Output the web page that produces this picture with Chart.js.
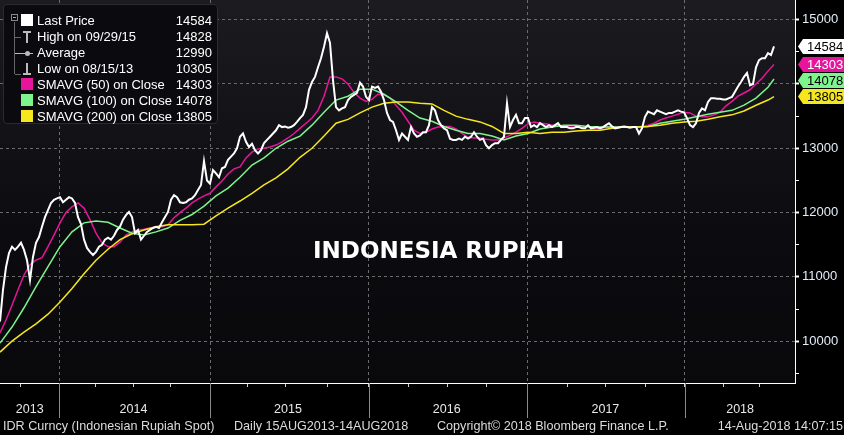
<!DOCTYPE html>
<html>
<head>
<meta charset="utf-8">
<title>IDR Curncy</title>
<script src="https://cdn.jsdelivr.net/npm/chart.js@4.4.1/dist/chart.umd.min.js"></script>
<style>
  html, body { margin: 0; padding: 0; background: #000; }
  #marco { position: relative; width: 844px; height: 435px; overflow: hidden; background: #000; }
  #myChart { position: absolute; left: 0; top: 0; }
  #leyenda { position: absolute; left: 3px; top: 4px; width: 215px; height: 120px;
             background: #0b0b0f; border: 1px solid #2a2a31; border-radius: 4px; box-sizing: border-box; }
  .fila { position: absolute; height: 16px; line-height: 16px; font: 13px "Liberation Sans", Arial, sans-serif; color: #fff; white-space: nowrap; }
  .valor { position: absolute; height: 16px; line-height: 16px; font: 13px "Liberation Sans", Arial, sans-serif; color: #fff; text-align: right; width: 60px; }
  .pieza { position: absolute; }
  #titulo { position: absolute; left: 313px; top: 237px; line-height: 28px; font: bold 23px "DejaVu Sans", sans-serif; color: #fff; white-space: nowrap; }
  .pie { position: absolute; top: 419px; line-height: 14px; font: 12.6px "Liberation Sans", Arial, sans-serif; color: #dcdcdc; white-space: nowrap; }
</style>
</head>
<body>
<div id="marco">
  <canvas id="myChart" width="844" height="435"></canvas>
  <div id="leyenda"></div>
  <div id="titulo">INDONESIA RUPIAH</div>
  <div class="pie" style="left:3px">IDR Curncy (Indonesian Rupiah Spot)</div>
  <div class="pie" style="left:234px">Daily 15AUG2013-14AUG2018</div>
  <div class="pie" style="left:437px">Copyright© 2018 Bloomberg Finance L.P.</div>
  <div class="pie" style="right:1px">14-Aug-2018 14:07:15</div>
</div>
<script>
// precio semanal (una lectura por semana desde 15-ago-2013)
const PRICE = [
    10305, 10800, 11150, 11370, 11470, 11420, 11470, 11530, 11420, 11260,
    10950, 11310, 11530, 11620, 11780, 11930, 12040, 12150, 12200, 12220,
    12240, 12160, 12200, 12240, 12220, 12150, 11930, 11820, 11580, 11450,
    11390, 11340, 11390, 11470, 11500, 11580, 11610, 11580, 11640, 11730,
    11780, 11890, 11960, 12010, 11930, 11680, 11730, 11580, 11640, 11700,
    11730, 11760, 11780, 11760, 11850, 11930, 12010, 12200, 12270, 12240,
    12160, 12150, 12160, 12200, 12220, 12270, 12350, 12430, 12800, 12500,
    12450, 12660, 12610, 12550, 12690, 12710, 12820, 12870, 12920, 13000,
    13180, 13230, 13100, 13020, 13070, 12970, 12920, 12970, 13080, 13130,
    13180, 13230, 13280, 13360, 13330, 13340, 13320, 13330, 13360, 13410,
    13470, 13520, 13640, 13910, 14030, 14110, 14260, 14400, 14580, 14790,
    14640, 14060, 13640, 13590, 13620, 13640, 13750, 13800, 13830, 13860,
    14020, 13960, 13800, 13750, 13960, 13940, 13960, 13880, 13750, 13550,
    13440, 13410, 13280, 13130, 13230, 13180, 13130, 13330, 13230, 13180,
    13200, 13250, 13250, 13360, 13640, 13590, 13440, 13360, 13310, 13280,
    13150, 13130, 13130, 13150, 13130, 13180, 13150, 13180, 13250, 13180,
    13130, 13150, 13050, 13000, 13050, 13080, 13080, 13130, 13180, 13700,
    13330, 13440, 13520, 13390, 13390, 13470, 13470, 13330, 13360, 13330,
    13390, 13360, 13330, 13360, 13330, 13360, 13390, 13330, 13330, 13330,
    13310, 13310, 13330, 13330, 13310, 13310, 13360, 13310, 13320, 13330,
    13310, 13330, 13360, 13390, 13340, 13310, 13320, 13330, 13340, 13330,
    13320, 13330, 13330, 13230, 13310, 13490, 13570, 13550, 13530, 13590,
    13570, 13550, 13530, 13550, 13550, 13570, 13590, 13570, 13560, 13470,
    13360, 13330, 13390, 13550, 13620, 13590, 13720, 13780, 13780, 13770,
    13770, 13760, 13760, 13780, 13800, 13880, 13960, 14030, 14110, 14170,
    13980, 14000, 14260, 14370, 14400, 14400, 14480, 14450, 14584
];
// medias moviles: SMA50 cada 2 semanas, SMA100 y SMA200 cada 4 semanas
const SMA50 = [
    10130, 10330, 10560, 10800, 11030, 11190, 11260, 11300, 11470, 11650,
    11840, 12000, 12090, 12150, 12070, 11890, 11680, 11530, 11470, 11470,
    11540, 11650, 11700, 11730, 11740, 11760, 11780, 11780, 11810, 11920,
    12000, 12070, 12150, 12210, 12260, 12300, 12400, 12490, 12600, 12680,
    12710, 12850, 12940, 12990, 13000, 13020, 13050, 13100, 13160, 13230,
    13310, 13390, 13470, 13590, 13810, 14110, 14110, 14080, 14000, 13870,
    13780, 13730, 13760, 13840, 13830, 13780, 13670, 13560, 13420, 13280,
    13230, 13250, 13300, 13330, 13340, 13340, 13300, 13230, 13170, 13160,
    13160, 13140, 13130, 13130, 13160, 13200, 13250, 13310, 13380, 13410,
    13390, 13380, 13360, 13360, 13340, 13330, 13330, 13330, 13330, 13310,
    13310, 13330, 13330, 13330, 13330, 13330, 13330, 13340, 13360, 13390,
    13440, 13470, 13500, 13530, 13560, 13550, 13500, 13490, 13490, 13520,
    13560, 13660, 13730, 13810, 13860, 13910, 14000, 14090, 14200, 14303
];
const SMA100 = [
    9970, 10220, 10520, 10850, 11160, 11470, 11700, 11840, 11870, 11850,
    11760, 11680, 11650, 11700, 11760, 11880, 11970, 12100, 12260, 12380,
    12550, 12740, 12850, 13000, 13110, 13190, 13360, 13560, 13750, 13810,
    13920, 13920, 13840, 13720, 13590, 13470, 13420, 13340, 13280, 13230,
    13230, 13190, 13130, 13190, 13230, 13300, 13330, 13360, 13360, 13340,
    13330, 13330, 13330, 13330, 13340, 13390, 13420, 13450, 13490, 13530,
    13560, 13590, 13670, 13780, 13950
];
const SMA200 = [
    9830, 10000, 10140, 10270, 10420, 10610, 10820, 11050, 11260, 11430,
    11580, 11670, 11730, 11780, 11810, 11810, 11810, 11820, 11950, 12070,
    12180, 12300, 12430, 12540, 12680, 12860, 13000, 13190, 13390, 13450,
    13550, 13640, 13700, 13720, 13720, 13700, 13690, 13590, 13500, 13450,
    13410, 13340, 13230, 13230, 13250, 13230, 13250, 13250, 13270, 13280,
    13280, 13310, 13330, 13330, 13340, 13360, 13390, 13410, 13420, 13450,
    13490, 13520, 13580, 13670, 13750
];

const LEGEND_LABELS = ['Last Price', 'High on 09/29/15', 'Average', 'Low on 08/15/13',
    'SMAVG (50) on Close', 'SMAVG (100) on Close', 'SMAVG (200) on Close'];
const LEGEND_VALUES = [14584, 14828, 12990, 10305, 14303, 14078, 13805];

const YEAR_LABELS = ['2013', '2014', '2015', '2016', '2017', '2018'];
const YEAR_LABEL_WEEKS = [9.9, 44.5, 96, 148.9, 201.8, 246.7];
const YEAR_EDGE_WEEKS = [19.7, 70, 122.9, 175.8, 228.3];
const QUARTER_WEEKS = [6.8, 19.7, 31.9, 44.6, 56.7, 70, 82.5, 95, 109.3, 122.9,
    136.3, 149, 162.3, 175.8, 189.3, 201.7, 215.3, 228.3, 241.3, 253];
const Y_TICKS = [9500, 10000, 10500, 11000, 11500, 12000, 12500, 13000, 13500, 14000, 14500, 15000];
const Y_MIN = 9350;
const Y_MAX = 15306;
const X_MAX = 265;

const COLOR_PRECIO = '#ffffff';
const COLOR_SMA50 = '#e6159b';
const COLOR_SMA100 = '#7ef48d';
const COLOR_SMA200 = '#f6e61e';
const COLOR_REJILLA = '#6c6c6c';
const FUENTE = '"Liberation Sans", Arial, sans-serif';

const ultimaSemana = PRICE.length - 1;

const aPuntos = (valores, paso) => valores.map((v, i) => ({ x: i * paso, y: v }));

const datosPrecio = aPuntos(PRICE, 1);
const datos50 = aPuntos(SMA50, 2);
const datos100 = aPuntos(SMA100, 4);
datos100.push({ x: ultimaSemana, y: LEGEND_VALUES[5] });
const datos200 = aPuntos(SMA200, 4);
datos200.push({ x: ultimaSemana, y: LEGEND_VALUES[6] });

// leyenda de arriba a la izquierda
const armaLeyenda = () => {
    const marco = document.getElementById('marco');
    const iconos = ['cuadro', 'alto', 'media', 'bajo', 'cuadro', 'cuadro', 'cuadro'];
    const colores = [COLOR_PRECIO, '#bbb', '#bbb', '#bbb', COLOR_SMA50, COLOR_SMA100, COLOR_SMA200];
    const pieza = (x, y, w, h, css) => {
        const d = document.createElement('div');
        d.className = 'pieza';
        d.style.cssText = `left:${x}px;top:${y}px;width:${w}px;height:${h}px;` + css;
        marco.appendChild(d);
    };
    // arbol
    pieza(11, 14, 7, 7, 'border:1px solid #888;box-sizing:border-box;');
    pieza(13, 17, 3, 1, 'background:#aaa;');
    pieza(14, 22, 1, 52, 'background:#666;');
    LEGEND_LABELS.forEach((texto, k) => {
        const c = 20.5 + 16 * k;
        const fila = document.createElement('div');
        fila.className = 'fila';
        fila.style.left = '37px';
        fila.style.top = (c - 8) + 'px';
        fila.textContent = texto;
        marco.appendChild(fila);
        const valor = document.createElement('div');
        valor.className = 'valor';
        valor.style.left = '152px';
        valor.style.top = (c - 8) + 'px';
        valor.textContent = LEGEND_VALUES[k];
        marco.appendChild(valor);
        const col = colores[k];
        if (iconos[k] === 'cuadro') {
            pieza(21, c - 7, 12, 12, `background:${col};`);
        } else if (iconos[k] === 'alto') {
            pieza(15, c, 6, 1, 'background:#666;');
            pieza(23, c - 6, 8, 2, `background:${col};`);
            pieza(26, c - 6, 2, 12, `background:${col};`);
        } else if (iconos[k] === 'media') {
            pieza(15, c, 18, 1, `background:${col};`);
            pieza(25, c - 2, 5, 5, `background:${col};border-radius:50%;`);
        } else {
            pieza(15, c + 5, 6, 1, 'background:#666;');
            pieza(26, c - 6, 2, 11, `background:${col};`);
            pieza(23, c + 4, 8, 2, `background:${col};`);
        }
    });
};
armaLeyenda();

const fondoPlugin = {
    id: 'fondo',
    beforeDraw(chart) {
        const { ctx, chartArea: a } = chart;
        ctx.save();
        ctx.fillStyle = '#000';
        ctx.fillRect(0, 0, chart.width, chart.height);
        const g = ctx.createLinearGradient(0, a.top, 0, a.bottom);
        g.addColorStop(0, '#1b1b20');
        g.addColorStop(0.6, '#0c0c10');
        g.addColorStop(1, '#09090c');
        ctx.fillStyle = g;
        ctx.fillRect(a.left, a.top, a.right - a.left, a.bottom - a.top);
        ctx.restore();
    }
};

const etiquetasPlugin = {
    id: 'etiquetas',
    afterDraw(chart) {
        const { ctx, chartArea: a, scales } = chart;
        ctx.save();
        // separadores de año debajo del eje
        ctx.strokeStyle = '#8a8a8a';
        ctx.lineWidth = 1;
        YEAR_EDGE_WEEKS.forEach(w => {
            const x = Math.round(scales.x.getPixelForValue(w)) + 0.5;
            ctx.beginPath();
            ctx.moveTo(x, a.bottom);
            ctx.lineTo(x, 418);
            ctx.stroke();
        });
        // cajitas con el último valor
        const valores = [LEGEND_VALUES[0], LEGEND_VALUES[4], LEGEND_VALUES[5], LEGEND_VALUES[6]];
        const fondos = [COLOR_PRECIO, COLOR_SMA50, COLOR_SMA100, COLOR_SMA200];
        const letras = ['#000', '#fff', '#000', '#000'];
        let previo = -100;
        ctx.font = '13px ' + FUENTE;
        ctx.textBaseline = 'middle';
        ctx.textAlign = 'left';
        valores.forEach((v, k) => {
            const y = Math.max(scales.y.getPixelForValue(v), previo + 16);
            previo = y;
            const x0 = a.right + 3;
            ctx.fillStyle = fondos[k];
            ctx.beginPath();
            ctx.moveTo(x0, y);
            ctx.lineTo(x0 + 5, y - 7.5);
            ctx.lineTo(chart.width, y - 7.5);
            ctx.lineTo(chart.width, y + 7.5);
            ctx.lineTo(x0 + 5, y + 7.5);
            ctx.closePath();
            ctx.fill();
            ctx.fillStyle = letras[k];
            ctx.fillText(String(v), x0 + 9, y + 1);
        });
        ctx.restore();
    }
};

const ticksX = QUARTER_WEEKS.concat(YEAR_LABEL_WEEKS);

new Chart(document.getElementById('myChart'), {
    type: 'line',
    data: {
        datasets: [
            { label: 'Last Price', data: datosPrecio, borderColor: COLOR_PRECIO, borderWidth: 2 },
            { label: 'SMAVG (200) on Close', data: datos200, borderColor: COLOR_SMA200, borderWidth: 1.5 },
            { label: 'SMAVG (100) on Close', data: datos100, borderColor: COLOR_SMA100, borderWidth: 1.5 },
            { label: 'SMAVG (50) on Close', data: datos50, borderColor: COLOR_SMA50, borderWidth: 1.5 }
        ]
    },
    options: {
        responsive: false,
        animation: false,
        layout: { padding: 0 },
        elements: { point: { radius: 0 }, line: { tension: 0 } },
        plugins: { legend: { display: false }, tooltip: { enabled: false } },
        scales: {
            x: {
                type: 'linear',
                min: 0,
                max: X_MAX,
                afterBuildTicks: (scale) => { scale.ticks = ticksX.map(v => ({ value: v })); },
                afterFit: (scale) => { scale.height = 52; scale.paddingLeft = 0; scale.paddingRight = 0; },
                ticks: {
                    autoSkip: false,
                    maxRotation: 0,
                    padding: 15,
                    color: '#e8e8e8',
                    font: { family: FUENTE, size: 12.5 },
                    callback: (v) => {
                        const k = YEAR_LABEL_WEEKS.indexOf(v);
                        return k >= 0 ? YEAR_LABELS[k] : '';
                    }
                },
                grid: {
                    color: (c) => (c.tick && YEAR_EDGE_WEEKS.includes(c.tick.value)) ? COLOR_REJILLA : 'rgba(0,0,0,0)',
                    tickColor: (c) => (c.tick && QUARTER_WEEKS.includes(c.tick.value)) ? '#d0d0d0' : 'rgba(0,0,0,0)',
                    tickLength: 4,
                    lineWidth: 1
                },
                border: { display: true, color: '#ffffff', width: 1, dash: [3, 3] }
            },
            y: {
                position: 'right',
                min: Y_MIN,
                max: Y_MAX,
                afterBuildTicks: (scale) => { scale.ticks = Y_TICKS.map(v => ({ value: v })); },
                afterFit: (scale) => { scale.width = 49; scale.paddingTop = 0; scale.paddingBottom = 0; },
                ticks: {
                    padding: 3,
                    color: '#e3ecf7',
                    font: { family: FUENTE, size: 13 },
                    callback: (v) => (v % 1000 === 0 ? String(v) : '')
                },
                grid: {
                    color: (c) => (c.tick && c.tick.value % 1000 === 0 && c.tick.value >= 10000) ? COLOR_REJILLA : 'rgba(0,0,0,0)',
                    tickColor: '#ffffff',
                    tickLength: 4,
                    tickWidth: (c) => (c.tick && c.tick.value % 1000 === 0) ? 2 : 1,
                    lineWidth: 1
                },
                border: { display: true, color: '#ffffff', width: 1, dash: [3, 3] }
            }
        }
    },
    plugins: [fondoPlugin, etiquetasPlugin]
});
</script>
</body>
</html>
